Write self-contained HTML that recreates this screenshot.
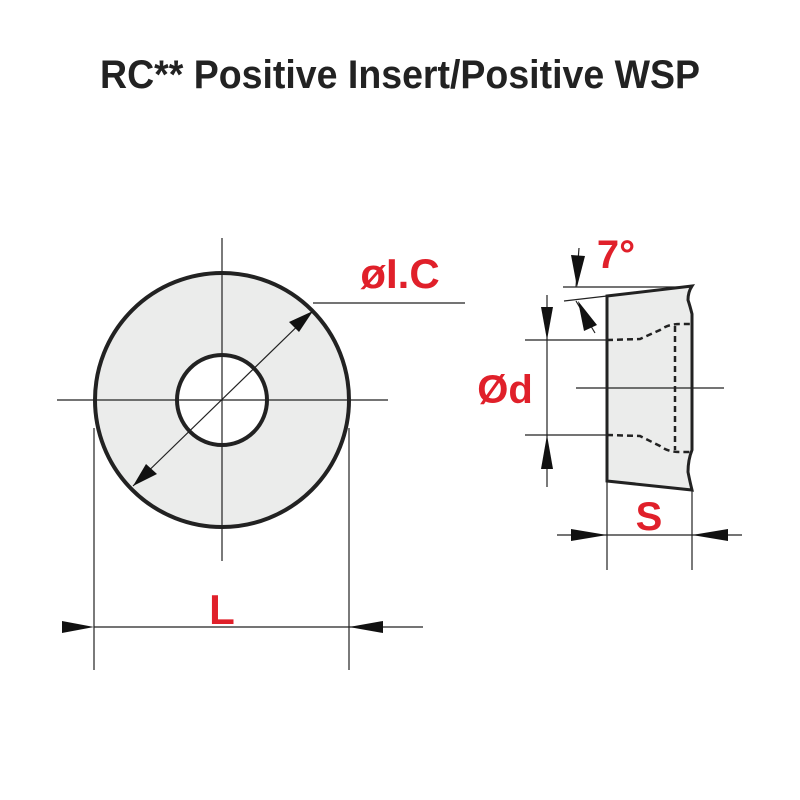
<!DOCTYPE html>
<html><head><meta charset="utf-8"><style>html,body{margin:0;padding:0;background:#fff}svg{display:block}</style></head>
<body>
<svg width="800" height="800" viewBox="0 0 800 800" xmlns="http://www.w3.org/2000/svg">
<text x="400" y="88" text-anchor="middle" font-family="Liberation Sans, sans-serif" font-weight="bold" font-size="40" fill="#222" textLength="600" lengthAdjust="spacingAndGlyphs">RC** Positive Insert/Positive WSP</text>

<!-- top view -->
<circle cx="222" cy="400" r="127" fill="#ebeceb" stroke="#222" stroke-width="4"/>
<circle cx="222" cy="400" r="45" fill="#fff" stroke="#222" stroke-width="4"/>
<g stroke="#222" stroke-width="1.2" fill="none">
<line x1="57" y1="400" x2="388" y2="400"/>
<line x1="222" y1="238" x2="222" y2="561"/>
<line x1="133" y1="486" x2="313" y2="311"/>
<line x1="313" y1="303" x2="465" y2="303"/>
<line x1="94" y1="428" x2="94" y2="670"/>
<line x1="349" y1="428" x2="349" y2="670"/>
<line x1="94" y1="627" x2="423" y2="627"/>
</g>
<g fill="#111">
<polygon points="313,311 289,322 299,332"/>
<polygon points="133,486 146,464 157,474"/>
<polygon points="94,627 62,621 62,633"/>
<polygon points="349,627 383,621 383,633"/>
</g>
<text x="400" y="288" text-anchor="middle" font-family="Liberation Sans, sans-serif" font-weight="bold" font-size="42" fill="#e0202a">øI.C</text>
<text x="222" y="624" text-anchor="middle" font-family="Liberation Sans, sans-serif" font-weight="bold" font-size="42" fill="#e0202a">L</text>

<!-- side view -->
<path d="M607,296 L692,286 Q688,292 688,300 Q690,306 692,314 L692,450 Q688,460 688,472 Q690,482 692,490 L607,481 Z" fill="#ebeceb" stroke="#222" stroke-width="3"/>
<g stroke="#222" stroke-width="2.5" fill="none" stroke-dasharray="6,4">
<path d="M607,340 L640,339 L660,330 Q668,324 680,324 L690,324"/>
<path d="M607,435 L640,436 L660,446 Q668,452 680,452 L690,452"/>
<line x1="675" y1="326" x2="675" y2="450"/>
</g>
<g stroke="#222" stroke-width="1.2" fill="none">
<line x1="563" y1="287" x2="692" y2="287"/>
<line x1="564" y1="301" x2="607" y2="296"/>
<line x1="525" y1="340" x2="607" y2="340"/>
<line x1="525" y1="435" x2="607" y2="435"/>
<line x1="547" y1="295" x2="547" y2="487"/>
<line x1="576" y1="388" x2="724" y2="388"/>
<line x1="607" y1="481" x2="607" y2="570"/>
<line x1="692" y1="490" x2="692" y2="570"/>
<line x1="557" y1="535" x2="742" y2="535"/>
<line x1="579" y1="248" x2="576" y2="287"/>
<line x1="576" y1="301" x2="595" y2="333"/>
</g>
<g fill="#111">
<polygon points="547,340 541,307 553,307"/>
<polygon points="547,435 541,469 553,469"/>
<polygon points="607,535 571,529 571,541"/>
<polygon points="692,535 728,529 728,541"/>
<polygon points="577,287 571,255 585,256"/>
<polygon points="578,301 584,331 597,325"/>
</g>
<text x="505" y="403" text-anchor="middle" font-family="Liberation Sans, sans-serif" font-weight="bold" font-size="40" fill="#e0202a">Ød</text>
<text x="616" y="268" text-anchor="middle" font-family="Liberation Sans, sans-serif" font-weight="bold" font-size="40" fill="#e0202a">7°</text>
<text x="649" y="530" text-anchor="middle" font-family="Liberation Sans, sans-serif" font-weight="bold" font-size="40" fill="#e0202a">S</text>
</svg>
</body></html>
